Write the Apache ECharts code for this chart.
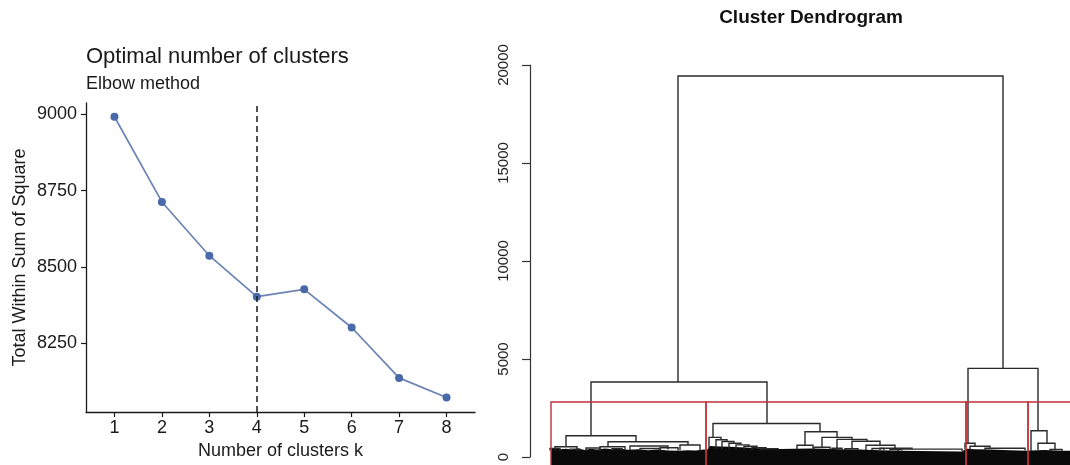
<!DOCTYPE html>
<html>
<head>
<meta charset="utf-8">
<script src="https://cdn.jsdelivr.net/npm/echarts@6/dist/echarts.min.js"></script>
<style>
html,body{margin:0;padding:0;background:#fff;}
#c{width:1070px;height:465px;}
</style>
</head>
<body>
<div id="c"></div>
<script>
// ---------- Elbow plot data ----------
const kValues = [1, 2, 3, 4, 5, 6, 7, 8];
const wss = [8992, 8713, 8537, 8403, 8427, 8302, 8137, 8073];
const wssTicks = [8250, 8500, 8750, 9000];
const optimalK = 4;

// ---------- Dendrogram data ----------
// leaf-order position (0..520) and merge heights
// each merge: [xLeft, xRight, height, leftChildHeight, rightChildHeight]
const mergesTop = [
  [128, 453, 19440, 3827, 4520],
  [41, 217, 3827, 1087, 1709],
  [418, 488, 4520, 700, 1340]
];
const mergesCluster1 = [
  [16, 86, 1087, 526, 780],
  [5, 27, 526, 330, 300],
  [58, 138, 780, 525, 610],
  [50, 75, 525, 330, 380],
  [130, 150, 610, 360, 320],
  [36, 50, 460, 330, 320],
  [80, 118, 560, 360, 380],
  [90, 110, 430, 330, 320],
  [110, 128, 470, 330, 320],
  [62, 72, 420, 330, 330],
  [0, 10, 440, 330, 330],
  [20, 30, 400, 330, 330]
];
const mergesCluster2 = [
  [163, 270, 1709, 1000, 1290],
  [159, 171, 1000, 420, 880],
  [166, 177, 880, 420, 790],
  [172, 184, 790, 400, 700],
  [179, 191, 700, 400, 620],
  [186, 199, 620, 380, 550],
  [194, 207, 550, 380, 480],
  [202, 216, 480, 360, 420],
  [211, 228, 420, 360, 380],
  [255, 287, 1290, 600, 1000],
  [247, 263, 600, 400, 420],
  [272, 302, 1000, 500, 900],
  [264, 280, 500, 380, 400],
  [287, 317, 900, 450, 800],
  [282, 292, 450, 380, 380],
  [302, 330, 800, 420, 600],
  [295, 308, 420, 360, 360],
  [316, 345, 600, 360, 450],
  [330, 362, 450, 340, 400],
  [348, 412, 400, 300, 300],
  [322, 334, 430, 360, 360],
  [340, 352, 380, 330, 330]
];
const mergesCluster3 = [
  [415, 425, 700, 400, 550],
  [420, 440, 550, 380, 450],
  [435, 475, 450, 330, 330]
];
const mergesCluster4 = [
  [481, 497, 1340, 300, 700],
  [488, 505, 700, 360, 380],
  [500, 512, 380, 300, 300]
];
// top edge of the dense block of leaves (leaf position, height)
const leafMassX = [1, 5, 10, 16, 22, 28, 35, 40, 47, 55, 62, 70, 78, 88, 98, 108, 118, 128, 138, 146, 154, 157,
  160, 170, 180, 190, 200, 215, 230, 245, 260, 275, 290, 310, 330, 350, 370, 390, 412,
  416, 425, 440, 460, 477, 480, 495, 510, 520];
const leafMassH = [380, 460, 400, 420, 380, 430, 360, 420, 380, 440, 400, 430, 370, 400, 350, 380, 330, 320, 350, 330, 380, 360,
  560, 540, 520, 500, 470, 430, 410, 420, 430, 420, 400, 380, 350, 320, 300, 290, 280,
  420, 400, 380, 340, 320, 330, 360, 320, 320];
const leafBottom = -3000;
const cutHeight = 2806;
const clusterEdges = [1, 156, 416, 478, 560];
const heightTicks = [0, 5000, 10000, 15000, 20000];

const FONT = "'Liberation Sans', Arial, Helvetica, sans-serif";
const allMerges = mergesTop.concat(mergesCluster1, mergesCluster2, mergesCluster3, mergesCluster4);
const plain = v => String(v);

const chart = echarts.init(document.getElementById('c'), null, {renderer: 'canvas'});

const option = {
  animation: false,
  backgroundColor: '#ffffff',
  title: [
    {text: 'Optimal number of clusters', left: 86, top: 46, padding: 0,
      textStyle: {fontFamily: FONT, fontSize: 22, fontWeight: 'normal', color: '#1a1a1a'}},
    {text: 'Elbow method', left: 86, top: 75, padding: 0,
      textStyle: {fontFamily: FONT, fontSize: 18, fontWeight: 'normal', color: '#1a1a1a'}},
    {text: 'Cluster Dendrogram', left: 811, top: 8, padding: 0, textAlign: 'center',
      textStyle: {fontFamily: FONT, fontSize: 19, fontWeight: 'bold', color: '#111'}}
  ],
  grid: [
    {left: 86, top: 103, width: 389, height: 314, containLabel: false},
    {left: 530, top: 65, width: 540, height: 392, containLabel: false}
  ],
  xAxis: [
    {
      gridIndex: 0, type: 'value', min: 0.4, max: 8.6,
      name: 'Number of clusters k', nameLocation: 'middle', nameGap: 28,
      nameTextStyle: {fontFamily: FONT, fontSize: 18, color: '#1a1a1a'},
      axisLine: {show: true, onZero: false, lineStyle: {color: '#1a1a1a', width: 1.3}},
      axisTick: {show: true, length: 5, customValues: kValues, lineStyle: {color: '#1a1a1a', width: 1.2}},
      axisLabel: {customValues: kValues, formatter: plain, margin: 7, fontFamily: FONT, fontSize: 18, color: '#1a1a1a'},
      splitLine: {show: false}
    },
    {
      gridIndex: 1, type: 'value', min: -20, max: 520, show: false
    }
  ],
  yAxis: [
    {
      gridIndex: 0, type: 'value', min: 8025, max: 9037,
      name: 'Total Within Sum of Square', nameLocation: 'middle', nameGap: 57,
      nameTextStyle: {fontFamily: FONT, fontSize: 18, color: '#1a1a1a'},
      axisLine: {show: true, onZero: false, lineStyle: {color: '#1a1a1a', width: 1.3}},
      axisTick: {show: true, length: 5, customValues: wssTicks, lineStyle: {color: '#1a1a1a', width: 1.2}},
      axisLabel: {customValues: wssTicks, formatter: plain, margin: 9, fontFamily: FONT, fontSize: 18, color: '#1a1a1a'},
      splitLine: {show: false}
    },
    {
      gridIndex: 1, type: 'value', min: 0, max: 20000,
      axisLine: {show: true, onZero: false, lineStyle: {color: '#333', width: 1.2}},
      axisTick: {show: true, length: 8, customValues: heightTicks, lineStyle: {color: '#333', width: 1.2}},
      axisLabel: {customValues: heightTicks, formatter: plain, rotate: 90, margin: 19, fontFamily: FONT, fontSize: 15, color: '#222'},
      splitLine: {show: false}
    }
  ],
  series: [
    {
      type: 'line', xAxisIndex: 0, yAxisIndex: 0,
      data: kValues.map((k, i) => [k, wss[i]]),
      symbol: 'circle', symbolSize: 8,
      lineStyle: {color: '#6b83b5', width: 1.7},
      itemStyle: {color: '#4a69a8'},
      markLine: {
        silent: true, symbol: ['none', 'none'], label: {show: false},
        lineStyle: {color: '#1a1a1a', type: [6, 4], width: 1.5},
        data: [{xAxis: optimalK}]
      },
      z: 3
    },
    {
      type: 'custom', xAxisIndex: 1, yAxisIndex: 1, clip: false,
      data: leafMassX.map((x, i) => [x, leafMassH[i]]),
      renderItem: function (params, api) {
        if (params.dataIndex !== 0) return null;
        const pts = leafMassX.map((x, i) => api.coord([x, leafMassH[i]]));
        pts.push(api.coord([leafMassX[leafMassX.length - 1], leafBottom]));
        pts.push(api.coord([leafMassX[0], leafBottom]));
        return {type: 'polygon', shape: {points: pts}, style: {fill: '#0a0a0a'}};
      },
      z: 2
    },
    {
      type: 'custom', xAxisIndex: 1, yAxisIndex: 1, clip: false,
      data: allMerges,
      renderItem: function (params, api) {
        const x1 = api.value(0), x2 = api.value(1), h = api.value(2), hl = api.value(3), hr = api.value(4);
        return {
          type: 'polyline',
          shape: {points: [api.coord([x1, hl]), api.coord([x1, h]), api.coord([x2, h]), api.coord([x2, hr])]},
          style: {stroke: '#2a2a2a', lineWidth: 1.4, fill: null}
        };
      },
      z: 3
    },
    {
      type: 'custom', xAxisIndex: 1, yAxisIndex: 1, clip: false,
      data: clusterEdges.slice(0, -1).map((x, i) => [x, clusterEdges[i + 1]]),
      renderItem: function (params, api) {
        const a = api.coord([api.value(0), cutHeight]);
        const b = api.coord([api.value(1), leafBottom]);
        return {
          type: 'rect',
          shape: {x: a[0], y: a[1], width: b[0] - a[0], height: b[1] - a[1]},
          style: {stroke: '#c0303a', lineWidth: 1.4, fill: null}
        };
      },
      z: 4
    }
  ]
};
chart.setOption(option);
</script>
</body>
</html>
